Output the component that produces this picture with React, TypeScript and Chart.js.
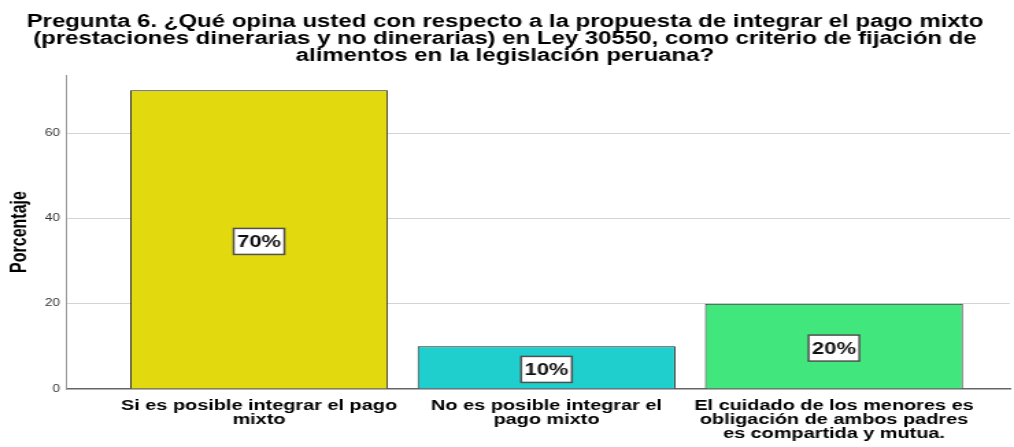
import React, { useEffect, useRef } from "react";
import { Chart, registerables } from "chart.js";

Chart.register(...registerables);

// ---- data ----
const TITLE_LINES = [
  "Pregunta 6. ¿Qué opina usted con respecto a la propuesta de integrar el pago mixto",
  "(prestaciones dinerarias y no dinerarias) en Ley 30550, como criterio de fijación de",
  "alimentos en la legislación peruana?",
];
const CATEGORIES = [
  ["Si es posible integrar el pago", "mixto"],
  ["No es posible integrar el", "pago mixto"],
  ["El cuidado de los menores es", "obligación de ambos padres", "es compartida y mutua."],
];
const PERCENTAGES = [70, 10, 20];
const BAR_COLORS = ["#E2D90F", "#1FCFCD", "#41E77C"];
const Y_TICKS = [0, 20, 40, 60];
const Y_TITLE = "Porcentaje";

const FONT = "'Liberation Sans', Arial, sans-serif";

// The reference image is horizontally stretched; the canvas is drawn narrower and stretched by CSS.
const CANVAS_W = 740;
const CANVAS_H = 447;

const valueLabels = {
  id: "valueLabels",
  afterDatasetsDraw(chart: any) {
    const ctx = chart.ctx;
    const meta = chart.getDatasetMeta(0);
    ctx.save();
    ctx.font = `bold 16px ${FONT}`;
    ctx.textAlign = "center";
    ctx.textBaseline = "middle";
    meta.data.forEach((el: any, i: number) => {
      const text = `${PERCENTAGES[i]}%`;
      const { x, y, base } = el.getProps(["x", "y", "base"], true);
      const cy = (y + base) / 2 + 2;
      const w = ctx.measureText(text).width + 5;
      const h = 26;
      ctx.fillStyle = "#ffffff";
      ctx.fillRect(x - w / 2, cy - h / 2, w, h);
      ctx.strokeStyle = "#505050";
      ctx.lineWidth = 1.5;
      ctx.strokeRect(x - w / 2, cy - h / 2, w, h);
      ctx.fillStyle = "#111111";
      ctx.fillText(text, x, cy + 1.5);
    });
    ctx.restore();
  },
};

export default function App() {
  const canvasRef = useRef<HTMLCanvasElement | null>(null);

  useEffect(() => {
    const canvas = canvasRef.current;
    if (!canvas) return;
    const positions = CATEGORIES.map((_, i) => i);
    const chart = new Chart(canvas, {
      type: "bar",
      data: {
        datasets: [
          {
            data: PERCENTAGES.map((v, i) => ({ x: positions[i], y: v })),
            backgroundColor: BAR_COLORS,
            borderColor: "#1e1e1e",
            borderWidth: 1,
            categoryPercentage: 1,
            barPercentage: 0.897,
          },
        ],
      },
      options: {
        responsive: false,
        animation: false,
        devicePixelRatio: 1,
        layout: { padding: { left: 0, right: 3, top: 0, bottom: 0 } },
        plugins: {
          legend: { display: false },
          tooltip: { enabled: false },
          title: {
            display: true,
            text: TITLE_LINES,
            color: "#000000",
            font: { family: FONT, size: 17.5, weight: "bold", lineHeight: "17px" },
            padding: { top: 14, bottom: 10 },
          },
        },
        scales: {
          x: {
            type: "linear",
            offset: false,
            bounds: "data",
            min: -0.668,
            max: 2.612,
            afterBuildTicks: (scale: any) => {
              scale.ticks = positions.map((v) => ({ value: v }));
            },
            afterFit: (scale: any) => {
              scale.height = 58;
            },
            grid: { display: false, drawTicks: false, offset: false },
            border: { display: true, color: "#666666", width: 1.5 },
            ticks: {
              autoSkip: false,
              maxRotation: 0,
              minRotation: 0,
              padding: 10,
              color: "#000000",
              font: { family: FONT, size: 14.5, weight: "bold", lineHeight: "14px" },
              callback: (value: any) => CATEGORIES[Number(value)] ?? "",
            },
          },
          y: {
            type: "linear",
            min: 0,
            max: 73.6,
            afterBuildTicks: (scale: any) => {
              scale.ticks = Y_TICKS.map((v) => ({ value: v }));
            },
            afterFit: (scale: any) => {
              scale.width = 48.9;
            },
            grid: {
              color: (c: any) => (c.tick && c.tick.value === 0 ? "rgba(0,0,0,0)" : "#d4d4d4"),
              lineWidth: 1,
              drawTicks: false,
            },
            border: { display: true, color: "#9a9a9a", width: 1 },
            ticks: {
              padding: 5,
              color: "#333333",
              font: { family: FONT, size: 10 },
            },
            title: {
              display: true,
              text: Y_TITLE,
              color: "#000000",
              font: { family: FONT, size: 16, weight: "bold" },
              padding: { top: 5, bottom: 0 },
            },
          },
        },
      },
      plugins: [valueLabels],
    } as any);
    return () => chart.destroy();
  }, []);

  return (
    <div style={{ position: "absolute", left: 0, top: 0, width: 1014, height: 447, background: "#fff" }}>
      <canvas
        ref={canvasRef}
        width={CANVAS_W}
        height={CANVAS_H}
        style={{ display: "block", width: "1014px", height: "447px" }}
      />
    </div>
  );
}
